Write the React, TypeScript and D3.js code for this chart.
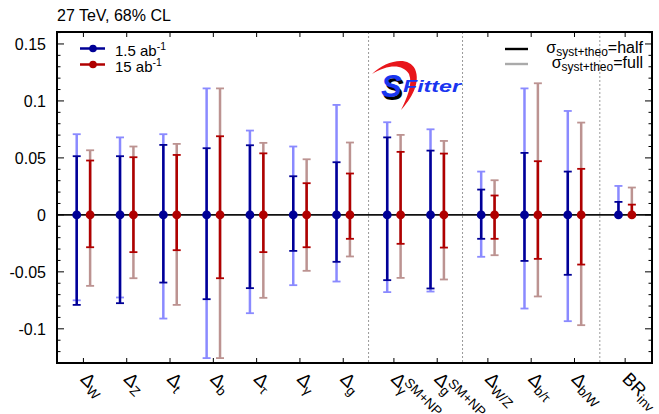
import React from 'react';
import * as d3 from 'd3';

// categories (label parts: main, sub, sup) and their group (separated by dotted lines)
const categories = [
  { main: 'Δ', sub: 'W', sup: '', group: 0 },
  { main: 'Δ', sub: 'Z', sup: '', group: 0 },
  { main: 'Δ', sub: 't', sup: '', group: 0 },
  { main: 'Δ', sub: 'b', sup: '', group: 0 },
  { main: 'Δ', sub: 'τ', sup: '', group: 0 },
  { main: 'Δ', sub: 'γ', sup: '', group: 0 },
  { main: 'Δ', sub: 'g', sup: '', group: 0 },
  { main: 'Δ', sub: 'γ', sup: 'SM+NP', group: 1 },
  { main: 'Δ', sub: 'g', sup: 'SM+NP', group: 1 },
  { main: 'Δ', sub: 'W/Z', sup: '', group: 2 },
  { main: 'Δ', sub: 'b/τ', sup: '', group: 2 },
  { main: 'Δ', sub: 'b/W', sup: '', group: 2 },
  { main: 'BR', sub: 'inv', sup: '', group: 3 },
];

// 1.5 ab^-1
const blueHalfUp = [0.0515, 0.0515, 0.0614, 0.0585, 0.0611, 0.0339, 0.0462, 0.068, 0.0564, 0.0222, 0.0544, 0.038, 0.0114];
const blueHalfDown = [-0.079, -0.0775, -0.0594, -0.074, -0.0643, -0.0316, -0.0412, -0.0573, -0.0646, -0.021, -0.0404, -0.0526, 0];
const blueFullUp = [0.0708, 0.068, 0.0708, 0.111, 0.074, 0.06, 0.0965, 0.0813, 0.0751, 0.038, 0.111, 0.0912, 0.0254];
const blueFullDown = [-0.075, -0.0725, -0.091, -0.1257, -0.0863, -0.0617, -0.0585, -0.0678, -0.0673, -0.0368, -0.0822, -0.0933, 0];
// 15 ab^-1
const redHalfUp = [0.0477, 0.0506, 0.0526, 0.069, 0.054, 0.0278, 0.0363, 0.0553, 0.0538, 0.017, 0.0471, 0.0404, 0.009];
const redHalfDown = [-0.0284, -0.0327, -0.031, -0.0556, -0.0327, -0.0284, -0.021, -0.0254, -0.0287, -0.021, -0.0386, -0.0436, 0];
const redFullUp = [0.0567, 0.06, 0.0623, 0.111, 0.0632, 0.0488, 0.0635, 0.0702, 0.0649, 0.0304, 0.1155, 0.081, 0.024];
const redFullDown = [-0.0623, -0.0556, -0.079, -0.1257, -0.0728, -0.0491, -0.0365, -0.0553, -0.0567, -0.0354, -0.0716, -0.0968, 0];

const yTicks = [-0.1, -0.05, 0, 0.05, 0.1, 0.15];
const yTickLabels = ['-0.1', '-0.05', '0', '0.05', '0.1', '0.15'];

const W = 659;
const H = 414;
const left = 57, right = 652, top = 32, bottom = 363;
const font = 'Liberation Sans, Arial, Helvetica, sans-serif';

const groupGap = 0.17;
const pos = categories.map((c, i) => i + c.group * groupGap);

const x = d3.scaleLinear().domain([-0.61, 13.13]).range([left, right]);
const y = d3.scaleLinear().domain([-0.13, 0.1605]).range([bottom, top]);

const series = [
  { name: '1.5', off: -6.7, dark: '#000096', light: '#8a8aff', hu: blueHalfUp, hd: blueHalfDown, fu: blueFullUp, fd: blueFullDown },
  { name: '15', off: 6.7, dark: '#b00000', light: '#bc9391', hu: redHalfUp, hd: redHalfDown, fu: redFullUp, fd: redFullDown },
];

function ErrBar({ cx, lo, hi, color }: { cx: number; lo: number; hi: number; color: string }) {
  const cw = 4;
  return (
    <g stroke={color} strokeWidth={2.5}>
      <line x1={cx} x2={cx} y1={y(lo)} y2={y(hi)} />
      {hi !== 0 && <line x1={cx - cw} x2={cx + cw} y1={y(hi)} y2={y(hi)} strokeWidth={1.8} />}
      {lo !== 0 && <line x1={cx - cw} x2={cx + cw} y1={y(lo)} y2={y(lo)} strokeWidth={1.8} />}
    </g>
  );
}

export default function App() {
  const minor = d3.range(-0.12, 0.161, 0.01).map((v) => Math.round(v * 100) / 100);
  const seps: number[] = [];
  for (let i = 1; i < pos.length; i++) {
    if (categories[i].group !== categories[i - 1].group) seps.push((pos[i] + pos[i - 1]) / 2);
  }
  return (
    <svg width={W} height={H} style={{ position: 'absolute', left: 0, top: 0, background: '#fff' }} fontFamily={font}>
      <text x={57} y={21} fontSize={16}>27 TeV, 68% CL</text>

      {/* separators */}
      {seps.map((s, i) => (
        <line key={i} x1={x(s)} x2={x(s)} y1={top} y2={bottom} stroke="#999" strokeWidth={1} strokeDasharray="2,2" />
      ))}

      {/* zero line */}
      <line x1={left} x2={right} y1={y(0)} y2={y(0)} stroke="#111" strokeWidth={1.6} />

      {/* error bars: full (light) first, then half (dark) */}
      {series.map((s) =>
        pos.map((p, i) => (
          <ErrBar key={s.name + 'f' + i} cx={x(p) + s.off} lo={s.fd[i]} hi={s.fu[i]} color={s.light} />
        ))
      )}
      {series.map((s) =>
        pos.map((p, i) => (
          <g key={s.name + 'h' + i}>
            <ErrBar cx={x(p) + s.off} lo={s.hd[i]} hi={s.hu[i]} color={s.dark} />
            <circle cx={x(p) + s.off} cy={y(0)} r={4.4} fill={s.dark} />
          </g>
        ))
      )}

      {/* frame and ticks */}
      <rect x={left} y={top} width={right - left} height={bottom - top} fill="none" stroke="#000" strokeWidth={2} />
      {minor.map((v) => {
        const isMajor = yTicks.some((t) => Math.abs(t - v) < 1e-6);
        const len = isMajor ? 7 : 3.5;
        return (
          <g key={'m' + v} stroke="#000" strokeWidth={1}>
            <line x1={left} x2={left + len} y1={y(v)} y2={y(v)} />
            <line x1={right} x2={right - len} y1={y(v)} y2={y(v)} />
          </g>
        );
      })}
      {pos.map((p, i) => (
        <g key={'xt' + i} stroke="#000" strokeWidth={1}>
          <line x1={x(p)} x2={x(p)} y1={bottom} y2={bottom - 5} />
          <line x1={x(p)} x2={x(p)} y1={top} y2={top + 5} />
        </g>
      ))}
      {yTicks.map((t, i) => (
        <text key={'yl' + i} x={46} y={y(t)} dy="0.36em" textAnchor="end" fontSize={16}>
          {yTickLabels[i]}
        </text>
      ))}

      {/* x labels */}
      {categories.map((c, i) => {
        const big = c.main === 'BR' ? 18 : 18.5;
        const subW = c.sub.length * 7;
        return (
          <text key={'xl' + i} transform={`translate(${x(pos[i]) - 4},${380}) rotate(45)`} fontSize={big}>
            <tspan>{c.main}</tspan>
            <tspan fontSize={13.5} dy={4}>{c.sub}</tspan>
            {c.sup && (
              <tspan fontSize={13.5} dx={-subW} dy={-11}>{c.sup}</tspan>
            )}
          </text>
        );
      })}

      {/* legend left */}
      {series.map((s, i) => (
        <g key={'lg' + i}>
          <line x1={80} x2={105} y1={48.5 + i * 16} y2={48.5 + i * 16} stroke={s.dark} strokeWidth={2.5} />
          <circle cx={93} cy={48.5 + i * 16} r={3.8} fill={s.dark} />
          <text x={115} y={56 + i * 16} fontSize={15}>
            {s.name} ab<tspan fontSize={10.5} dy={-6}>-1</tspan>
          </text>
        </g>
      ))}

      {/* legend right */}
      {['half', 'full'].map((lbl, i) => (
        <g key={'lr' + i}>
          <line x1={505} x2={528} y1={49 + i * 15} y2={49 + i * 15} stroke={i === 0 ? '#000' : '#aaa'} strokeWidth={2.4} />
          <text x={643} y={52.5 + i * 15} textAnchor="end" fontSize={16}>
            σ<tspan fontSize={12} dy={3.5}>syst+theo</tspan>
            <tspan dy={-3.5}>={lbl}</tspan>
          </text>
        </g>
      ))}

      {/* SFitter logo */}
      <g>
        <path d="M372,74 C385,61 408,55 415,69 C421,83 411,99 401,110 C407,98 413,84 409,74 C403,64 388,64 372,74 Z" fill="#e8161b" />
        <text x={383} y={100} fontSize={31} fontWeight="bold" fontStyle="italic" fill="#000">S</text>
        <text x={381} y={97} fontSize={31} fontWeight="bold" fontStyle="italic" fill="#1a35f0">S</text>
        <text x={403} y={92} fontSize={16} fontWeight="900" fontStyle="italic" fill="#1a35f0" textLength={58} lengthAdjust="spacingAndGlyphs">Fitter</text>
      </g>
    </svg>
  );
}
